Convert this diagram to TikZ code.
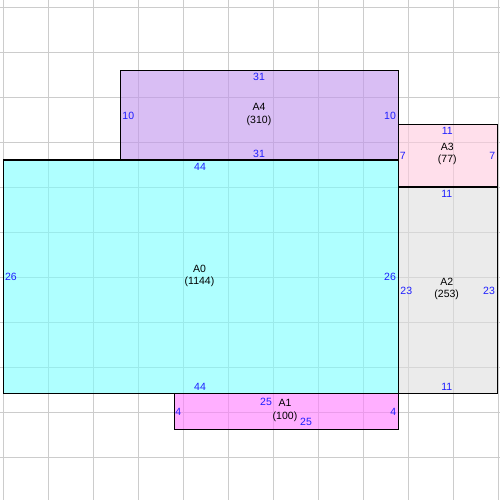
\documentclass[tikz,border=0pt]{standalone}
\usepackage{fontspec}
\setmainfont{Liberation Sans}
\definecolor{numblue}{RGB}{30,30,255}
\definecolor{gridgray}{RGB}{204,204,204}
\definecolor{cA0}{RGB}{123,255,255}
\definecolor{cA1}{RGB}{255,123,255}
\definecolor{cA2}{RGB}{222,222,222}
\definecolor{cA3}{RGB}{255,203,223}
\definecolor{cA4}{RGB}{193,148,238}
\begin{document}
\begin{tikzpicture}[x=1pt,y=-1pt,
  lbl/.style={text=numblue,inner sep=0pt,font=\fontsize{10.5}{12}\selectfont},
  nm/.style={align=center,inner sep=0pt,text=black,font=\fontsize{10.5}{12.4}\selectfont},
  boxline/.style={draw=black,line width=1.2pt},
  boxfill/.style={fill opacity=0.6},
  gridline/.style={draw=gridgray,line width=1pt}]
\useasboundingbox (0,0) rectangle (500,500);
\fill[white] (0,0) rectangle (500,500);
% grid
\foreach \i in {0,...,11} \draw[gridline] ({3.5+45*\i},0) -- ({3.5+45*\i},500);
\foreach \i in {0,...,10} \draw[gridline] (0,{7.3+45*\i}) -- (500,{7.3+45*\i});
% fills
\fill[cA0,boxfill] (3.5,160) rectangle (398.5,393.4);
\fill[cA4,boxfill] (120.2,70.2) rectangle (398.5,160);
\fill[cA3,boxfill] (398.5,124.1) rectangle (497.2,186.9);
\fill[cA2,boxfill] (398.5,186.9) rectangle (497.2,393.4);
\fill[cA1,boxfill] (174.1,393.4) rectangle (398.5,429.3);
% borders
\draw[boxline] (3.5,160) rectangle (398.5,393.4);
\draw[boxline] (120.2,70.2) rectangle (398.5,160);
\draw[boxline] (398.5,124.1) rectangle (497.2,186.9);
\draw[boxline] (398.5,186.9) rectangle (497.2,393.4);
\draw[boxline] (174.1,393.4) rectangle (398.5,429.3);
% A0
\node[nm] (nA0) at (199.5,276) {A0\\(1144)};
\node[lbl] (a0t) at (200,167) {44};
\node[lbl] (a0b) at (200,386.7) {44};
\node[lbl] (a0l) at (11,277) {26};
\node[lbl] (a0r) at (390,277) {26};
% A4
\node[nm] (nA4) at (259,114.5) {A4\\(310)};
\node[lbl] (a4t) at (259,76.7) {31};
\node[lbl] (a4b) at (259,154) {31};
\node[lbl] (a4l) at (128.3,116) {10};
\node[lbl] (a4r) at (390,116) {10};
% A3
\node[nm] (nA3) at (447.3,154) {A3\\(77)};
\node[lbl] (a3t) at (447.3,131) {11};
\node[lbl] (a3l) at (402.7,156) {7};
\node[lbl] (a3r) at (492.3,156) {7};
% A2
\node[nm] (nA2) at (446.7,289) {A2\\(253)};
\node[lbl] (a2t) at (446.7,194.3) {11};
\node[lbl] (a2b) at (446.7,387.3) {11};
\node[lbl] (a2l) at (406.3,291) {23};
\node[lbl] (a2r) at (489,291) {23};
% A1
\node[nm] (nA1) at (285,410.5) {A1\\(100)};
\node[lbl] (a1t) at (266,402) {25};
\node[lbl] (a1b) at (306,422.3) {25};
\node[lbl] (a1l) at (178.3,412.3) {4};
\node[lbl] (a1r) at (393.3,412.3) {4};
\end{tikzpicture}
\end{document}
